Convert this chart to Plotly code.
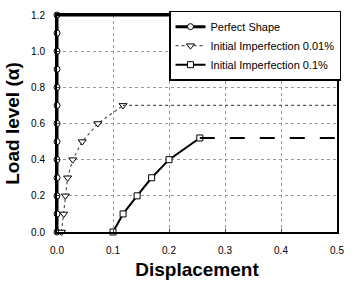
import plotly.graph_objects as go

# Data
perfect_x = [0.0]*13 + [0.5]
perfect_y = [0.0, 0.1, 0.2, 0.3, 0.4, 0.5, 0.6, 0.7, 0.8, 0.9, 1.0, 1.1, 1.2, 1.2]

imp001_x = [0.008, 0.012, 0.015, 0.019, 0.028, 0.045, 0.073, 0.118, 0.5]
imp001_y = [0.0, 0.1, 0.2, 0.3, 0.4, 0.5, 0.6, 0.7, 0.7]

imp01_x = [0.1, 0.118, 0.143, 0.169, 0.2, 0.255]
imp01_y = [0.0, 0.1, 0.2, 0.3, 0.4, 0.52]
imp01_plateau_x = [0.255, 0.5]
imp01_plateau_y = [0.52, 0.52]

x_ticks = [0.0, 0.1, 0.2, 0.3, 0.4, 0.5]
y_ticks = [0.0, 0.2, 0.4, 0.6, 0.8, 1.0, 1.2]

fig = go.Figure()

fig.add_trace(go.Scatter(
    x=perfect_x[:13], y=perfect_y[:13], mode="lines+markers", name="Perfect Shape",
    line=dict(color="black", width=3), cliponaxis=False,
    marker=dict(symbol="circle", size=6, color="white", line=dict(color="black", width=1)),
))
fig.add_trace(go.Scatter(
    x=perfect_x[12:], y=perfect_y[12:], mode="lines", showlegend=False,
    line=dict(color="black", width=3),
))
fig.add_trace(go.Scatter(
    x=imp001_x[:8], y=imp001_y[:8], mode="lines+markers", name="Initial Imperfection 0.01%",
    line=dict(color="#555", width=1.2, dash="dot"), cliponaxis=False,
    marker=dict(symbol="triangle-down", size=7, color="white", line=dict(color="black", width=1)),
))
fig.add_trace(go.Scatter(
    x=imp001_x[7:], y=imp001_y[7:], mode="lines", showlegend=False,
    line=dict(color="#555", width=1.2, dash="dot"),
))
fig.add_trace(go.Scatter(
    x=imp01_x, y=imp01_y, mode="lines+markers", name="Initial Imperfection 0.1%",
    line=dict(color="black", width=2), cliponaxis=False,
    marker=dict(symbol="square", size=6, color="white", line=dict(color="black", width=1)),
))
fig.add_trace(go.Scatter(
    x=imp01_plateau_x, y=imp01_plateau_y, mode="lines", showlegend=False,
    line=dict(color="black", width=2, dash="longdash"),
))

fig.update_layout(
    width=353, height=290, autosize=False,
    margin=dict(l=57, r=9, t=12, b=58),
    paper_bgcolor="white", plot_bgcolor="white",
    font=dict(family="Liberation Sans, Arial, sans-serif", size=10, color="black"),
    showlegend=True,
    legend=dict(
        x=0.40, y=1.02, xanchor="left", yanchor="top",
        bgcolor="white", bordercolor="black", borderwidth=1.5,
        font=dict(size=11), tracegroupgap=0, itemwidth=30,
    ),
    xaxis=dict(
        range=[0, 0.5], tickvals=x_ticks, ticktext=[f"{v:.1f}" for v in x_ticks],
        showline=True, linecolor="black", linewidth=2, mirror=True,
        showgrid=True, gridcolor="#999", griddash="dot", gridwidth=1,
        zeroline=False, ticks="inside", ticklen=3, ticklabelstandoff=8,
        title=dict(text="<b>Displacement</b>", font=dict(size=19), standoff=8),
    ),
    yaxis=dict(
        range=[0, 1.2], tickvals=y_ticks, ticktext=[f"{v:.1f}" for v in y_ticks],
        showline=True, linecolor="black", linewidth=2, mirror=True,
        showgrid=True, gridcolor="#999", griddash="dot", gridwidth=1,
        zeroline=False, ticks="inside", ticklen=3, ticklabelstandoff=8,
        title=dict(text="<b>Load level (α)</b>", font=dict(size=19), standoff=6),
    ),
)

fig.write_html(
    "out.html",
    config={"responsive": False, "displayModeBar": False},
    post_script="document.body.style.margin='0';document.body.style.overflow='hidden';",
)
